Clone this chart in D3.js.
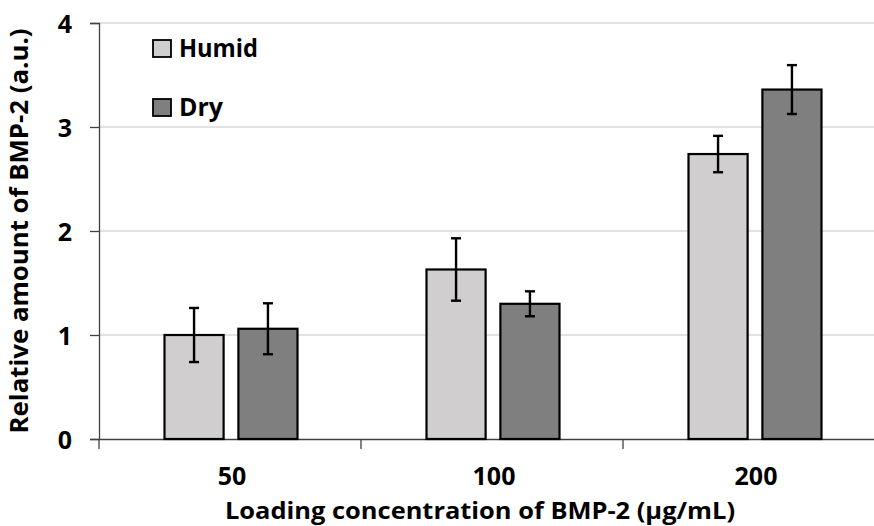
<!DOCTYPE html>
<html>
<head>
<meta charset="utf-8">
<script src="https://cdn.jsdelivr.net/npm/d3@7"></script>
<style>
  html, body { margin: 0; padding: 0; background: #fff; }
  svg { display: block; }
  text { font-family: "Open Sans", "Noto Sans", sans-serif; font-weight: bold; fill: #000; }
</style>
</head>
<body>
<svg id="chart" width="874" height="526"></svg>
<script>
// ---- data ----
const categories = ["50", "100", "200"];
const seriesNames = ["Humid", "Dry"];
const humidValues = [1.00, 1.63, 2.74];
const humidErrors = [0.26, 0.30, 0.175];
const dryValues = [1.06, 1.30, 3.36];
const dryErrors = [0.245, 0.12, 0.235];
const yTicks = [0, 1, 2, 3, 4];
const seriesColors = ["#d0cecf", "#7f7f7f"];
const xTitle = "Loading concentration of BMP-2 (\u00b5g/mL)";
const yTitle = "Relative amount of BMP-2 (a.u.)";

const rows = categories.map((c, i) => ({
  cat: c,
  vals: [
    { s: "Humid", v: humidValues[i], e: humidErrors[i] },
    { s: "Dry", v: dryValues[i], e: dryErrors[i] }
  ]
}));

const svg = d3.select("#chart");

const x0 = d3.scaleBand().domain(categories).range([99, 885]).paddingInner(0).paddingOuter(0);
const x1 = d3.scaleBand().domain(seriesNames).range([65.5, 198.5]).paddingInner(0.2).paddingOuter(0);
const y = d3.scaleLinear().domain([0, 4]).range([439, 23]);
const color = d3.scaleOrdinal().domain(seriesNames).range(seriesColors);

// gridlines
svg.append("g")
  .selectAll("line")
  .data(yTicks.filter(t => t > 0))
  .join("line")
  .attr("x1", 99).attr("x2", 874)
  .attr("y1", d => y(d)).attr("y2", d => y(d))
  .attr("stroke", "#d9d9d9").attr("stroke-width", 1.3);

// y axis
const yAxis = svg.append("g")
  .attr("transform", "translate(99,0)")
  .call(d3.axisLeft(y).tickValues(yTicks).tickSize(9).tickPadding(18).tickFormat(d3.format("d")));
yAxis.select(".domain").attr("stroke", "#404040").attr("stroke-width", 1.3);
yAxis.selectAll(".tick line").attr("stroke", "#404040").attr("stroke-width", 1.3);
yAxis.selectAll(".tick text")
  .attr("font-size", 25).attr("font-family", "'Open Sans', sans-serif").attr("font-weight", "bold")
  .attr("fill", "#000").attr("dy", "0.36em");

// x axis
const xAxis = svg.append("g")
  .attr("transform", "translate(0,439)")
  .call(d3.axisBottom(x0).tickSize(0).tickFormat(""));
xAxis.select(".domain").attr("stroke", "#404040").attr("stroke-width", 1.3);
xAxis.selectAll(".tick").remove();
// boundary ticks between categories
svg.append("g")
  .selectAll("line")
  .data(categories)
  .join("line")
  .attr("x1", d => x0(d)).attr("x2", d => x0(d))
  .attr("y1", 439).attr("y2", 449)
  .attr("stroke", "#404040").attr("stroke-width", 1.3);
// category labels
svg.append("g")
  .selectAll("text")
  .data(categories)
  .join("text")
  .attr("x", d => x0(d) + x0.bandwidth() / 2 + 2)
  .attr("y", 485)
  .attr("text-anchor", "middle")
  .attr("font-size", 25)
  .text(d => d);

// bars
const groups = svg.append("g")
  .selectAll("g")
  .data(rows)
  .join("g")
  .attr("transform", d => `translate(${x0(d.cat)},0)`);

groups.selectAll("rect")
  .data(d => d.vals)
  .join("rect")
  .attr("x", d => x1(d.s))
  .attr("width", x1.bandwidth())
  .attr("y", d => y(d.v))
  .attr("height", d => y(0) - y(d.v))
  .attr("fill", d => color(d.s))
  .attr("stroke", "#000")
  .attr("stroke-width", 2.2);

// error bars
const capW = 10;
const err = groups.selectAll("g.err")
  .data(d => d.vals)
  .join("g")
  .attr("class", "err")
  .attr("stroke", "#000")
  .attr("stroke-width", 2.4);
err.append("line")
  .attr("x1", d => x1(d.s) + x1.bandwidth() / 2)
  .attr("x2", d => x1(d.s) + x1.bandwidth() / 2)
  .attr("y1", d => y(d.v + d.e))
  .attr("y2", d => y(d.v - d.e));
err.append("line")
  .attr("x1", d => x1(d.s) + x1.bandwidth() / 2 - capW / 2)
  .attr("x2", d => x1(d.s) + x1.bandwidth() / 2 + capW / 2)
  .attr("y1", d => y(d.v + d.e))
  .attr("y2", d => y(d.v + d.e));
err.append("line")
  .attr("x1", d => x1(d.s) + x1.bandwidth() / 2 - capW / 2)
  .attr("x2", d => x1(d.s) + x1.bandwidth() / 2 + capW / 2)
  .attr("y1", d => y(d.v - d.e))
  .attr("y2", d => y(d.v - d.e));

// legend
const legendTops = [40, 99];
const legendLens = [79, 44];
const legend = svg.append("g")
  .selectAll("g")
  .data(seriesNames)
  .join("g");
legend.append("rect")
  .attr("x", 153)
  .attr("y", (d, i) => legendTops[i])
  .attr("width", 18).attr("height", 17)
  .attr("fill", d => color(d))
  .attr("stroke", "#000").attr("stroke-width", 1.8);
legend.append("text")
  .attr("x", 179)
  .attr("y", (d, i) => legendTops[i] + 17)
  .attr("font-size", 25)
  .attr("textLength", (d, i) => legendLens[i])
  .attr("lengthAdjust", "spacingAndGlyphs")
  .text(d => d);

// axis titles
svg.append("text")
  .attr("x", 480).attr("y", 519)
  .attr("text-anchor", "middle")
  .attr("font-size", 24)
  .attr("textLength", 510)
  .attr("lengthAdjust", "spacingAndGlyphs")
  .text(xTitle);

svg.append("text")
  .attr("transform", "translate(28,231) rotate(-90)")
  .attr("x", 0).attr("y", 0)
  .attr("text-anchor", "middle")
  .attr("font-size", 25)
  .attr("textLength", 405)
  .attr("lengthAdjust", "spacingAndGlyphs")
  .text(yTitle);
</script>
</body>
</html>
